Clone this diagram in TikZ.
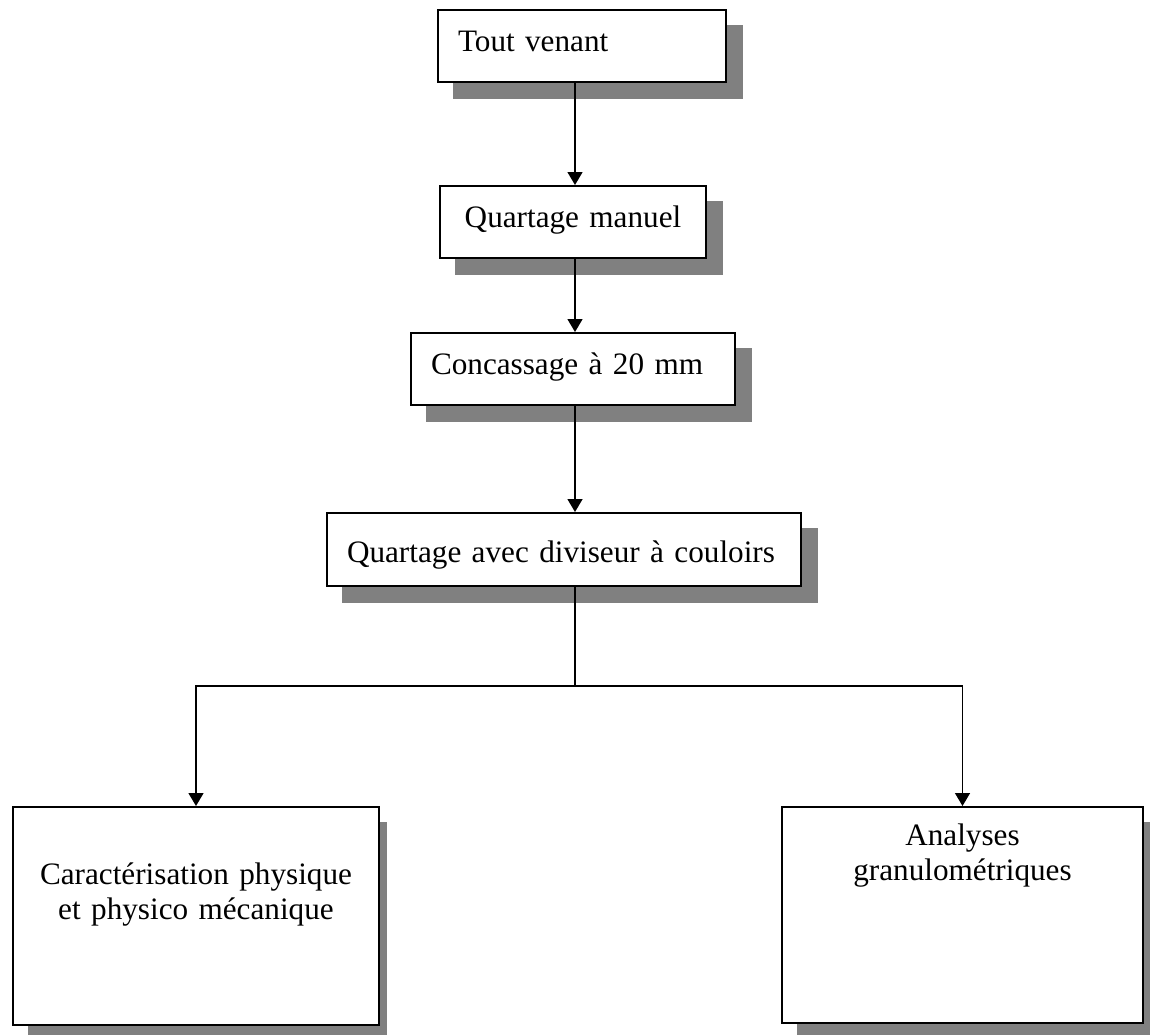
\documentclass[tikz,border=0pt]{standalone}
\usepackage{fontspec}
\setmainfont{Liberation Serif}
\usetikzlibrary{arrows.meta, calc, backgrounds}

\definecolor{shadowgray}{RGB}{128,128,128}

\tikzset{
  stepbox/.style={draw, line width=1pt, fill=white, anchor=north west,
    inner xsep=10pt, inner ysep=0pt, minimum height=36pt,
    text height=10.9pt, text depth=5.9pt, align=left},
  endbox/.style={draw, line width=1pt, fill=white, anchor=north west,
    inner xsep=5pt, inner ysep=0pt, align=center},
  flow/.style={line width=0.7pt, -{Triangle[width=7.5pt, length=6.5pt]}},
}

\begin{document}
\begin{tikzpicture}[x=0.5pt, y=-0.5pt, font=\fontsize{15.6pt}{17.8pt}\selectfont]
  \useasboundingbox (0,0) rectangle (1150,1034);

  \coordinate (spine) at (575,0);
  \coordinate (split) at (575,686);

  % sample preparation chain
  \node[stepbox, text width=124pt] (tout) at (437,9) {Tout venant};
  \node[stepbox, text width=113pt, align=center] (qman) at (439,185) {Quartage manuel};
  \node[stepbox, text width=142pt] (conc) at (410,332) {Concassage à 20 mm};
  \node[stepbox, text width=217pt, text height=13pt, text depth=0pt, minimum height=36.5pt] (qdiv) at (326,512) {Quartage avec diviseur à couloirs};

  % the two tests
  \node[endbox, text width=173pt, text height=38.5pt, text depth=70.5pt] (carac) at (12,806) {Caractérisation physique\\et physico mécanique};
  \node[endbox, text width=170.5pt, text height=19pt, text depth=89pt] (granu) at (781,806) {Analyses\\granulométriques};

  % shadows behind the boxes
  \begin{scope}[on background layer]
    \foreach \n/\dx/\dy in {tout/16/16, qman/16/16, conc/16/16, qdiv/16/16, carac/7/9, granu/16/16}
      \fill[shadowgray] ($(\n.north west)+(16,16)$) rectangle ($(\n.south east)+(\dx,\dy)$);
  \end{scope}

  \draw[flow] (tout.south -| spine) -- (qman.north -| spine);
  \draw[flow] (qman.south -| spine) -- (conc.north -| spine);
  \draw[flow] (conc.south -| spine) -- (qdiv.north -| spine);
  \draw[line width=0.7pt] (qdiv.south -| spine) -- (split);
  \draw[flow] (split) -| (carac.north);
  \draw[flow] (split) -| (granu.north);

\end{tikzpicture}
\end{document}
